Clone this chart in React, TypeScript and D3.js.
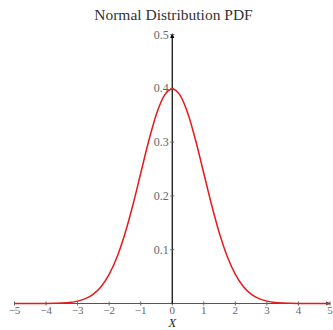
import React from "react";
import * as d3 from "d3";

const xs = [-5,-4.75,-4.5,-4.25,-4,-3.75,-3.5,-3.25,-3,-2.75,-2.5,-2.25,-2,-1.75,-1.5,-1.25,-1,-0.75,-0.5,-0.25,0,0.25,0.5,0.75,1,1.25,1.5,1.75,2,2.25,2.5,2.75,3,3.25,3.5,3.75,4,4.25,4.5,4.75,5];
const ys = [0,0,0,0,0.0001,0.0004,0.0009,0.002,0.0044,0.0091,0.0175,0.0317,0.054,0.0863,0.1295,0.1826,0.242,0.3011,0.3521,0.3867,0.3989,0.3867,0.3521,0.3011,0.242,0.1826,0.1295,0.0863,0.054,0.0317,0.0175,0.0091,0.0044,0.002,0.0009,0.0004,0.0001,0,0,0,0];
const xTicks = [-5,-4,-3,-2,-1,0,1,2,3,4,5];
const yTicks = [0.1,0.2,0.3,0.4,0.5];
const title = "Normal Distribution PDF";
const xLabel = "X";

const fmt = (v: number) => (v < 0 ? "\u2212" + Math.abs(v) : String(v));

export default function App() {
  const W = 333, H = 330;
  const x = d3.scaleLinear().domain([-5, 5]).range([14.5, 330]);
  const y = d3.scaleLinear().domain([0, 0.5]).range([303.5, 34.5]);
  const pts = xs.map((v, i) => [v, ys[i]] as [number, number]);
  const line = d3.line<[number, number]>().x(d => x(d[0])).y(d => y(d[1])).curve(d3.curveMonotoneX);
  const font = "'Liberation Serif', 'DejaVu Serif', serif";
  return (
    <svg width={W} height={H} style={{ position: "absolute", left: 0, top: 0 }} fontFamily={font}>
      <text x={173.5} y={19.5} textAnchor="middle" fontSize={15.5} fill="#333">{title}</text>
      {/* x axis */}
      <line x1={x(-5)} x2={x(5)} y1={y(0)} y2={y(0)} stroke="#555" strokeWidth={1} />
      <path d={`M${x(5) + 1},${y(0)} l-5,-2 l0,4 z`} fill="#555" />
      {xTicks.map(t => (
        <g key={"xt" + t}>
          <line x1={x(t)} x2={x(t)} y1={y(0) - 2} y2={y(0) + 2} stroke="#666" strokeWidth={1} />
          <text x={x(t)} y={y(0) + 10} textAnchor="middle" fontSize={11} fill="#666">{fmt(t)}</text>
        </g>
      ))}
      {/* y axis */}
      <line x1={x(0)} x2={x(0)} y1={y(0)} y2={y(0.5)} stroke="#000" strokeWidth={1.2} />
      <path d={`M${x(0)},${y(0.5) - 1.5} l-2,5 l4,0 z`} fill="#000" />
      {yTicks.map(t => (
        <g key={"yt" + t}>
          <line x1={x(0) - 2} x2={x(0) + 2} y1={y(t)} y2={y(t)} stroke="#666" strokeWidth={1} />
          <text x={x(0) - 3.5} y={y(t) + 4} textAnchor="end" fontSize={12} fill="#666">{String(t)}</text>
        </g>
      ))}
      <path d={line(pts) || ""} fill="none" stroke="#e41a1c" strokeWidth={1.5} />
      <text x={x(0)} y={327.3} textAnchor="middle" fontSize={12.5} fontStyle="italic" fill="#222">{xLabel}</text>
    </svg>
  );
}
